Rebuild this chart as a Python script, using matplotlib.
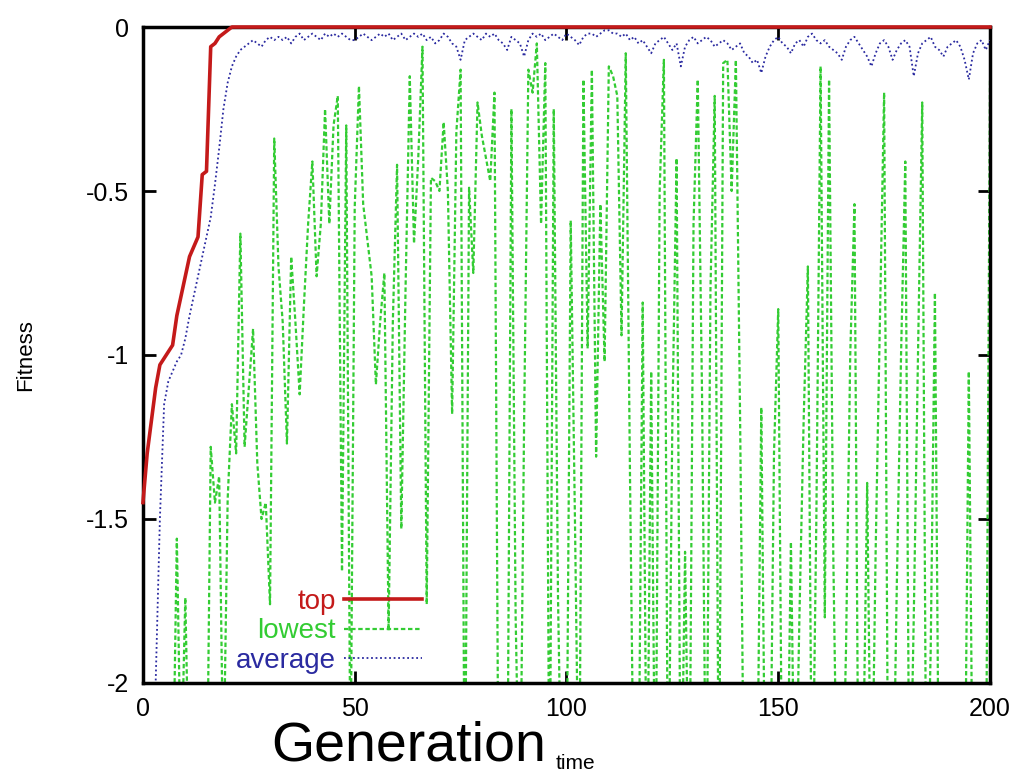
import matplotlib
matplotlib.use("Agg")
import matplotlib.pyplot as plt

plt.rcParams['font.family'] = ['Liberation Sans', 'DejaVu Sans']
plt.rcParams['axes.unicode_minus'] = False

generations = list(range(201))

# best individual per generation
top = [-1.45, -1.30, -1.20, -1.10, -1.03, -1.01, -0.99, -0.97, -0.88, -0.82,
       -0.76, -0.70, -0.67, -0.64, -0.45, -0.44, -0.06, -0.05, -0.03, -0.02,
       -0.01] + [0.0] * 180

# population average
average = [-2.6, -2.4, -2.2, -2.0, -1.5, -1.15, -1.08, -1.05, -1.02, -1.00,
           -0.95, -0.88, -0.82, -0.76, -0.70, -0.64, -0.58, -0.48, -0.37, -0.25,
           -0.17, -0.12, -0.09, -0.07, -0.06, -0.05, -0.04, -0.05, -0.06, -0.04,
           -0.03, -0.04, -0.03, -0.04, -0.03, -0.05, -0.03, -0.02, -0.04, -0.03,
           -0.02, -0.03, -0.04, -0.02, -0.03, -0.02, -0.03, -0.02, -0.03, -0.04,
           -0.04, -0.03, -0.02, -0.03, -0.04, -0.03, -0.02, -0.03, -0.02, -0.04,
           -0.03, -0.02, -0.04, -0.03, -0.02, -0.03, -0.02, -0.04, -0.03, -0.05,
           -0.04, -0.02, -0.03, -0.05, -0.06, -0.10, -0.04, -0.03, -0.02, -0.03,
           -0.04, -0.02, -0.03, -0.02, -0.04, -0.05, -0.07, -0.03, -0.04, -0.05,
           -0.09, -0.04, -0.02, -0.03, -0.02, -0.04, -0.03, -0.02, -0.03, -0.04,
           -0.02, -0.03, -0.04, -0.055, -0.03, -0.02, -0.02, -0.03, -0.02, -0.01,
           -0.01, -0.02, -0.02, -0.03, -0.02, -0.04, -0.03, -0.05, -0.04, -0.06,
           -0.08, -0.05, -0.04, -0.03, -0.05, -0.07, -0.05, -0.12, -0.06, -0.04,
           -0.03, -0.05, -0.04, -0.03, -0.04, -0.06, -0.05, -0.04, -0.05, -0.07,
           -0.06, -0.05, -0.08, -0.09, -0.11, -0.10, -0.14, -0.09, -0.06, -0.04,
           -0.03, -0.05, -0.06, -0.08, -0.05, -0.04, -0.06, -0.03, -0.02, -0.04,
           -0.05, -0.04, -0.06, -0.07, -0.08, -0.10, -0.06, -0.04, -0.03, -0.05,
           -0.07, -0.09, -0.12, -0.08, -0.05, -0.04, -0.06, -0.10, -0.07, -0.05,
           -0.04, -0.06, -0.15, -0.08, -0.05, -0.04, -0.03, -0.06, -0.07, -0.09,
           -0.06, -0.05, -0.04, -0.06, -0.10, -0.16, -0.08, -0.05, -0.04, -0.07,
           -0.04]

# worst individual per generation (values below -2 fall off the chart)
lowest = [-2.8, -2.8, -2.8, -2.8, -2.8, -2.8, -2.8, -2.4, -1.56, -2.3,
          -1.74, -2.4, -2.6, -2.6, -2.4, -2.5, -1.28, -1.45, -1.37, -2.3,
          -1.44, -1.15, -1.30, -0.63, -1.28, -1.10, -0.92, -1.33, -1.50, -1.45,
          -1.76, -0.34, -0.73, -0.90, -1.27, -0.70, -0.90, -1.12, -0.85, -0.60,
          -0.41, -0.76, -0.60, -0.25, -0.60, -0.30, -0.21, -1.66, -0.30, -2.30,
          -0.55, -0.18, -0.54, -0.65, -0.76, -1.09, -0.90, -0.75, -1.84, -0.90,
          -0.42, -1.53, -0.80, -0.15, -0.66, -0.40, -0.06, -1.76, -0.46, -0.47,
          -0.50, -0.29, -0.50, -1.18, -0.32, -0.13, -2.50, -0.49, -0.75, -0.23,
          -0.33, -0.40, -0.47, -0.20, -2.50, -2.30, -2.50, -0.25, -1.80, -2.50,
          -1.20, -0.13, -0.20, -0.05, -0.60, -0.11, -2.50, -0.25, -1.74, -2.50,
          -2.40, -0.59, -1.50, -2.50, -0.16, -0.98, -0.13, -1.31, -0.54, -1.02,
          -0.12, -0.15, -0.21, -0.94, -0.08, -1.37, -2.50, -2.40, -0.84, -2.50,
          -1.05, -2.50, -0.50, -0.10, -2.50, -1.20, -0.40, -2.50, -1.60, -2.50,
          -0.60, -0.16, -1.11, -2.50, -0.80, -0.21, -2.50, -0.11, -0.10, -0.50,
          -0.10, -1.20, -2.50, -2.50, -2.50, -2.40, -1.16, -2.50, -2.50, -1.30,
          -0.86, -2.50, -2.50, -1.57, -2.50, -1.80, -1.20, -0.73, -2.50, -1.50,
          -0.12, -1.80, -0.16, -1.61, -2.50, -2.50, -1.90, -1.00, -0.54, -2.50,
          -2.30, -1.39, -2.50, -1.60, -0.90, -0.20, -2.50, -2.50, -1.70, -1.00,
          -0.41, -2.50, -1.80, -1.00, -0.23, -2.50, -1.90, -0.81, -2.50, -2.50,
          -2.50, -2.50, -2.50, -2.50, -2.50, -1.05, -2.50, -2.50, -2.50, -2.50,
          -0.16]

y_ticks = [0, -0.5, -1, -1.5, -2]
y_tick_labels = ['0', '-0.5', '-1', '-1.5', '-2']
x_ticks = [0, 50, 100, 150, 200]

fig = plt.figure(figsize=(10.16, 7.74), dpi=100)
ax = fig.add_axes([0.1407, 0.1176, 0.8337, 0.8475])

ax.plot(generations, lowest, color='#33cc33', lw=1.6, ls=(0, (2, 1.2)),
        label='lowest', zorder=2)
ax.plot(generations, average, color='#2a2aa0', lw=1.3, ls=(0, (1, 1.5)),
        label='average', zorder=3)
ax.plot(generations, top, color='#c41a1a', lw=2.6, label='top',
        zorder=4, clip_on=False)

ax.set_xlim(0, 200)
ax.set_ylim(-2, 0)
ax.set_xticks(x_ticks)
ax.set_yticks(y_ticks)
ax.set_yticklabels(y_tick_labels)
ax.tick_params(direction='in', length=9, width=2, labelsize=18,
               top=True, right=True)
ax.tick_params(axis='y', pad=10)
ax.tick_params(axis='x', pad=10)
for s in ax.spines.values():
    s.set_linewidth(2.5)

ax.set_ylabel('Fitness', fontsize=16, labelpad=36)

h, l = ax.get_legend_handles_labels()
order = [2, 0, 1]
ax.legend([h[i] for i in order], [l[i] for i in order], loc='lower left',
          bbox_to_anchor=(0.08, -0.024), frameon=False, markerfirst=False,
          labelcolor='linecolor', fontsize=20, handlelength=2.8,
          labelspacing=0.12, handletextpad=0.3)
for t in ax.get_legend().get_texts():
    t.set_ha('right')

fig.text(0.267, 0.017, 'Generation', fontsize=40)
fig.text(0.547, 0.007, 'time', fontsize=15)

fig.savefig('out.png', dpi=100)
